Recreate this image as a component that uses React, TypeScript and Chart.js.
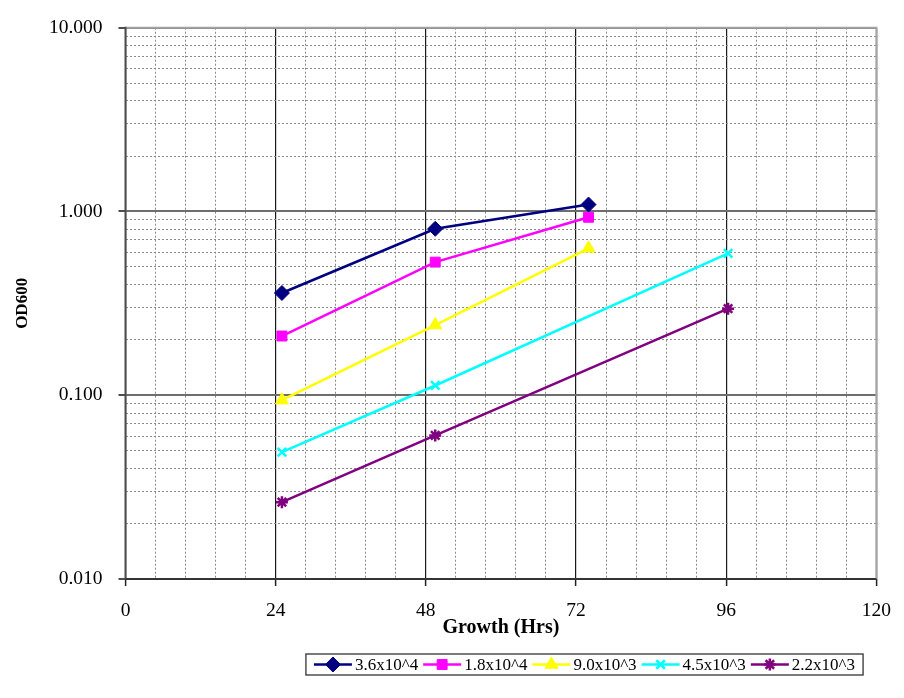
import React, { useEffect, useRef } from 'react';
import { Chart, registerables } from 'chart.js';
import { drawPoint } from 'chart.js/helpers';

Chart.register(...registerables);

// ---------- data ----------
const seriesLabels = ['3.6x10^4', '1.8x10^4', '9.0x10^3', '4.5x10^3', '2.2x10^3'];
const hoursTo74 = [25, 49.5, 74];
const hoursTo96 = [25, 49.5, 96.3];
const od36e4 = [0.36, 0.805, 1.09];
const od18e4 = [0.21, 0.53, 0.93];
const od90e3 = [0.094, 0.241, 0.63];
const od45e3 = [0.049, 0.113, 0.592];
const od22e3 = [0.0262, 0.0604, 0.296];
const xMajorStep = 24;
const xMinorStep = 4.8;
const xMin = 0;
const xMax = 120;
const yMin = 0.01;
const yMax = 10;

const FONT = '"Times New Roman", "Liberation Serif", serif';
const PLOT = { left: 125.5, top: 22, right: 885.5, bottom: 579 };
const LEGEND_BOX = { cx: 584.5, top: 654, height: 21 };

const isDecade = (v: number) => {
  const l = Math.log10(v);
  return Math.abs(l - Math.round(l)) < 1e-6;
};
const isXMajor = (v: number) => Math.abs(v / xMajorStep - Math.round(v / xMajorStep)) < 1e-6;

const frame = {
  id: 'frame',
  beforeDatasetsDraw(chart: any) {
    const { ctx, chartArea } = chart;
    const { left, right, top, bottom } = chartArea;
    ctx.save();
    ctx.setLineDash([]);
    ctx.strokeStyle = '#a3a3a3';
    ctx.lineWidth = 2;
    ctx.beginPath();
    ctx.moveTo(left, top);
    ctx.lineTo(right, top);
    ctx.lineTo(right, bottom);
    ctx.stroke();
    ctx.strokeStyle = '#4d4d4d';
    ctx.lineWidth = 2;
    ctx.beginPath();
    ctx.moveTo(left, top - 1);
    ctx.lineTo(left, bottom + 1);
    ctx.stroke();
    ctx.strokeStyle = '#222';
    ctx.lineWidth = 1.5;
    ctx.beginPath();
    ctx.moveTo(left, bottom);
    ctx.lineTo(right, bottom);
    ctx.stroke();
    ctx.restore();
  },
};

const boxLegend = {
  id: 'boxLegend',
  afterDraw(chart: any) {
    const { ctx } = chart;
    ctx.save();
    ctx.font = `17px ${FONT}`;
    const sample = 38, gap = 3, between = 5, padX = 8;
    const items = chart.data.datasets.map((ds: any) => ({ ds, w: sample + gap + ctx.measureText(ds.label).width }));
    const total = items.reduce((a: number, b: any) => a + b.w, 0) + between * (items.length - 1) + padX * 2;
    const top = LEGEND_BOX.top, h = LEGEND_BOX.height;
    let x = LEGEND_BOX.cx - total / 2;
    ctx.strokeStyle = '#333';
    ctx.lineWidth = 1.3;
    ctx.strokeRect(x, top, total, h);
    x += padX;
    const cy = top + h / 2;
    for (const it of items) {
      const ds = it.ds;
      ctx.setLineDash([]);
      ctx.strokeStyle = ds.borderColor;
      ctx.lineWidth = ds.borderWidth;
      ctx.beginPath();
      ctx.moveTo(x, cy);
      ctx.lineTo(x + sample, cy);
      ctx.stroke();
      ctx.fillStyle = ds.pointBackgroundColor;
      ctx.strokeStyle = ds.pointBorderColor;
      ctx.lineWidth = ds.pointBorderWidth;
      drawPoint(ctx, { pointStyle: ds.pointStyle, radius: ds.pointRadius, rotation: 0, borderWidth: ds.pointBorderWidth }, x + sample / 2, cy);
      ctx.fillStyle = '#000';
      ctx.textBaseline = 'middle';
      ctx.textAlign = 'left';
      ctx.fillText(ds.label, x + sample + gap, cy + 1);
      x += it.w + between;
    }
    ctx.restore();
  },
};

function makeSet(label: string, xs: number[], ys: number[], color: string, style: string, radius: number, pbw: number) {
  return {
    label,
    data: xs.map((x, i) => ({ x, y: ys[i] })),
    borderColor: color,
    backgroundColor: color,
    pointBackgroundColor: color,
    pointBorderColor: color,
    pointStyle: style,
    pointRadius: radius,
    pointBorderWidth: pbw,
    borderWidth: 2.5,
    tension: 0,
  };
}

export default function App() {
  const ref = useRef<HTMLCanvasElement | null>(null);
  useEffect(() => {
    if (!ref.current) return;
    const opts: any = {
      responsive: false,
      animation: false,
      events: [],
      layout: { padding: { left: 0, top: 22, right: 18.5, bottom: 39 } },
      plugins: { legend: { display: false }, tooltip: { enabled: false } },
      scales: {
        x: {
          type: 'linear',
          min: xMin,
          max: xMax,
          afterBuildTicks: (s: any) => {
            const t = [];
            const n = Math.round((xMax - xMin) / xMinorStep);
            for (let i = 0; i <= n; i++) t.push({ value: xMin + i * xMinorStep });
            s.ticks = t;
          },
          afterFit: (s: any) => { s.height = 80; },
          ticks: {
            autoSkip: false,
            maxRotation: 0,
            padding: 13,
            color: '#000',
            font: { family: FONT, size: 19.5 },
            callback: (v: any) => (isXMajor(Number(v)) ? String(Math.round(Number(v))) : ''),
          },
          grid: {
            color: (c: any) => (c.tick && isXMajor(c.tick.value) ? '#1a1a1a' : '#8a8a8a'),
            lineWidth: (c: any) => (c.tick && isXMajor(c.tick.value) ? 1.2 : 1),
            tickLength: 7,
            tickColor: (c: any) => (c.tick && isXMajor(c.tick.value) ? '#222' : 'rgba(0,0,0,0)'),
            tickWidth: 1.5,
          },
          border: {
            display: false,
            dash: (c: any) => (c.tick && !isXMajor(c.tick.value) ? [2, 2] : []),
          },
          title: {
            display: true,
            text: 'Growth (Hrs)',
            color: '#000',
            font: { family: FONT, size: 20, weight: 'bold' },
            padding: { top: 0, bottom: 19 },
          },
        },
        y: {
          type: 'logarithmic',
          min: yMin,
          max: yMax,
          afterBuildTicks: (s: any) => {
            const t = [];
            const e0 = Math.round(Math.log10(yMin));
            const e1 = Math.round(Math.log10(yMax));
            for (let e = e0; e < e1; e++) {
              for (let m = 1; m < 10; m++) t.push({ value: Number((m * Math.pow(10, e)).toPrecision(6)) });
            }
            t.push({ value: yMax });
            s.ticks = t;
          },
          afterFit: (s: any) => { s.width = 125.5; },
          ticks: {
            autoSkip: false,
            padding: 16,
            color: '#000',
            font: { family: FONT, size: 19.5 },
            callback: (v: any) => (isDecade(Number(v)) ? Number(v).toFixed(3) : ''),
          },
          grid: {
            color: (c: any) => (c.tick && isDecade(c.tick.value) ? '#6e6e6e' : '#8a8a8a'),
            lineWidth: (c: any) => (c.tick && isDecade(c.tick.value) ? 2 : 1),
            tickLength: 7,
            tickColor: (c: any) => (c.tick && isDecade(c.tick.value) ? '#4d4d4d' : 'rgba(0,0,0,0)'),
            tickWidth: 2,
          },
          border: {
            display: false,
            dash: (c: any) => (c.tick && !isDecade(c.tick.value) ? [2, 2] : []),
          },
          title: {
            display: true,
            text: 'OD600',
            color: '#000',
            font: { family: FONT, size: 17, weight: 'bold' },
            padding: { top: 12, bottom: 0 },
          },
        },
      },
    };
    const chart = new Chart(ref.current, {
      type: 'line',
      data: {
        datasets: [
          makeSet(seriesLabels[0], hoursTo74, od36e4, '#000080', 'rectRot', 7.5, 1),
          makeSet(seriesLabels[1], hoursTo74, od18e4, '#FF00FF', 'rect', 7, 1),
          makeSet(seriesLabels[2], hoursTo74, od90e3, '#FFFF00', 'triangle', 7.5, 1),
          makeSet(seriesLabels[3], hoursTo96, od45e3, '#00FFFF', 'crossRot', 6, 2.5),
          makeSet(seriesLabels[4], hoursTo96, od22e3, '#800080', 'star', 6, 2.5),
        ] as any,
      },
      options: opts,
      plugins: [frame, boxLegend],
    });
    // pin the plot area to the reference position
    for (let k = 0; k < 5; k++) {
      const ca = chart.chartArea;
      const dL = PLOT.left - ca.left;
      const dT = PLOT.top - ca.top;
      const dR = ca.right - PLOT.right;
      const dB = ca.bottom - PLOT.bottom;
      if (Math.max(Math.abs(dL), Math.abs(dT), Math.abs(dR), Math.abs(dB)) < 0.1) break;
      const p = opts.layout.padding;
      opts.layout.padding = { left: p.left + dL, top: p.top + dT, right: p.right + dR, bottom: p.bottom + dB };
      chart.update();
    }
    return () => chart.destroy();
  }, []);
  return (
    <div style={{ position: 'absolute', left: 0, top: 0, width: 904, height: 698, background: '#fff' }}>
      <canvas ref={ref} width={904} height={698} style={{ display: 'block' }} />
    </div>
  );
}
